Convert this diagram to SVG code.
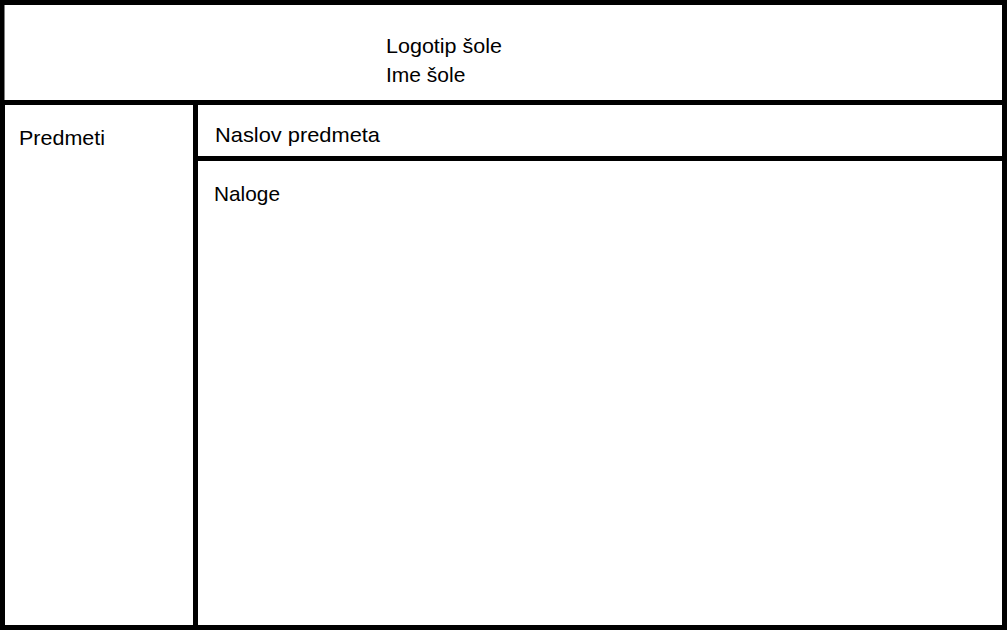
<svg xmlns="http://www.w3.org/2000/svg" width="1008" height="630" viewBox="0 0 1008 630">
  <style>
    .box { fill: none; stroke: #000; stroke-width: 5; }
    .lbl { font-family: "Liberation Sans", Arial, sans-serif; font-size: 21px; fill: #000; }
  </style>
  <rect x="0" y="0" width="1008" height="630" fill="#fff"/>
  <g id="header">
    <rect class="box" x="2" y="2.5" width="1002.5" height="100"/>
    <text class="lbl" x="386" y="53" textLength="116" lengthAdjust="spacingAndGlyphs">Logotip šole</text>
    <text class="lbl" x="386" y="82">Ime šole</text>
  </g>
  <g id="sidebar">
    <rect class="box" x="2.5" y="102.5" width="193" height="525"/>
    <text class="lbl" x="19" y="145" textLength="86" lengthAdjust="spacingAndGlyphs">Predmeti</text>
  </g>
  <g id="title">
    <rect class="box" x="195.5" y="102.5" width="809" height="56"/>
    <text class="lbl" x="215" y="142" textLength="165" lengthAdjust="spacingAndGlyphs">Naslov predmeta</text>
  </g>
  <g id="content">
    <rect class="box" x="195.5" y="158.5" width="809" height="469"/>
    <text class="lbl" x="214" y="201" textLength="66" lengthAdjust="spacingAndGlyphs">Naloge</text>
  </g>
  <g id="connectors"></g>
</svg>
